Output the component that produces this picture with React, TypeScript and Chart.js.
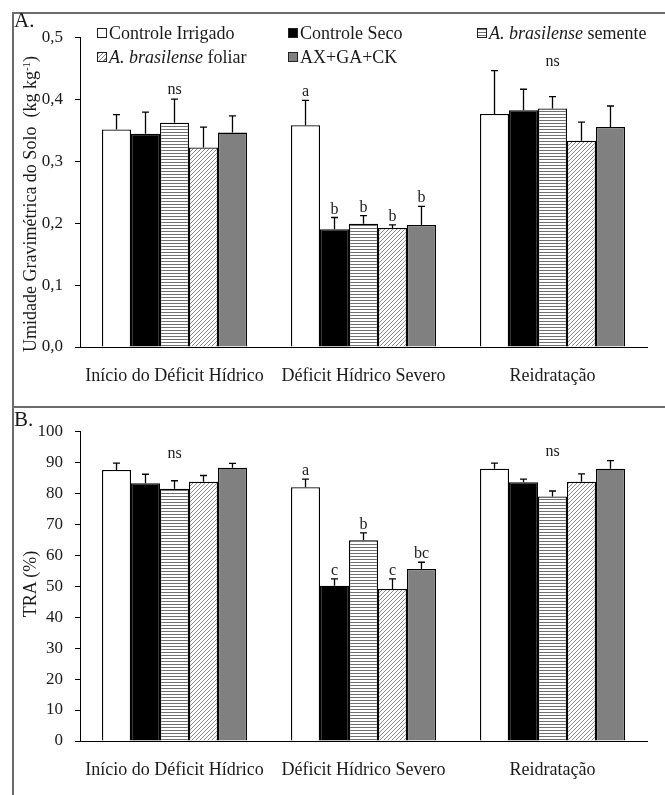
import React, { useEffect, useRef } from "react";
import { Chart, registerables } from "chart.js";

Chart.register(...registerables);

const FONT = "'Liberation Serif', 'Times New Roman', serif";

const categories = ["Início do Déficit Hídrico", "Déficit Hídrico Severo", "Reidratação"];
const seriesNames = ["Controle Irrigado", "Controle Seco", "A. brasilense semente", "A. brasilense foliar", "AX+GA+CK"];

// Panel A – Umidade gravimétrica do solo (kg kg-1)
const umidIrrigado = [0.351, 0.358, 0.376];
const umidSeco = [0.344, 0.19, 0.382];
const umidSemente = [0.362, 0.199, 0.385];
const umidFoliar = [0.322, 0.192, 0.333];
const umidHormonio = [0.346, 0.197, 0.355];
const umidErrIrrigado = [0.024, 0.04, 0.07];
const umidErrSeco = [0.035, 0.019, 0.034];
const umidErrSemente = [0.038, 0.013, 0.019];
const umidErrFoliar = [0.033, 0.005, 0.03];
const umidErrHormonio = [0.027, 0.03, 0.034];
const umidLetters = [
  ["", "a", ""],
  ["", "b", ""],
  ["", "b", ""],
  ["", "b", ""],
  ["", "b", ""],
];
const umidGroupLetters = ["ns", "", "ns"];
const umidTicks = { min: 0, max: 0.5, step: 0.1 };

// Panel B – TRA (%)
const traIrrigado = [87.5, 81.9, 87.9];
const traSeco = [83.2, 50.1, 83.5];
const traSemente = [81.4, 64.8, 78.9];
const traFoliar = [83.7, 49.1, 83.7];
const traHormonio = [88.2, 55.5, 87.9];
const traErrIrrigado = [2.2, 2.6, 1.8];
const traErrSeco = [2.9, 2.2, 1.0];
const traErrSemente = [2.6, 2.4, 1.8];
const traErrFoliar = [2.0, 3.2, 2.5];
const traErrHormonio = [1.4, 2.2, 2.6];
const traLetters = [
  ["", "a", ""],
  ["", "c", ""],
  ["", "b", ""],
  ["", "c", ""],
  ["", "bc", ""],
];
const traGroupLetters = ["ns", "", "ns"];
const traTicks = { min: 0, max: 100, step: 10 };

function hPattern(ctx: CanvasRenderingContext2D) {
  const c = document.createElement("canvas");
  c.width = 4;
  c.height = 3;
  const g = c.getContext("2d")!;
  g.fillStyle = "#ffffff";
  g.fillRect(0, 0, 4, 3);
  g.fillStyle = "#707070";
  g.fillRect(0, 0, 4, 1);
  return ctx.createPattern(c, "repeat")!;
}

function dPattern(ctx: CanvasRenderingContext2D) {
  const c = document.createElement("canvas");
  c.width = 4;
  c.height = 4;
  const g = c.getContext("2d")!;
  g.fillStyle = "#ffffff";
  g.fillRect(0, 0, 4, 4);
  g.fillStyle = "#8a8a8a";
  for (let i = 0; i < 4; i++) g.fillRect(3 - i, i, 1, 1);
  return ctx.createPattern(c, "repeat")!;
}

function makeErrorPlugin(errors: number[][], letters: string[][], groupLetters: string[]) {
  return {
    id: "errorBars",
    afterDatasetsDraw(chart: any) {
      const { ctx } = chart;
      const y = chart.scales.y;
      const minTop: number[] = [];
      ctx.save();
      ctx.strokeStyle = "#000";
      ctx.lineWidth = 1.3;
      ctx.fillStyle = "#1a1a1a";
      ctx.font = `16px ${FONT}`;
      ctx.textAlign = "center";
      ctx.textBaseline = "alphabetic";
      chart.data.datasets.forEach((ds: any, i: number) => {
        const meta = chart.getDatasetMeta(i);
        meta.data.forEach((bar: any, j: number) => {
          const v = ds.data[j];
          const top = y.getPixelForValue(v + errors[i][j]);
          const x = bar.x;
          ctx.beginPath();
          ctx.moveTo(x, bar.y);
          ctx.lineTo(x, top);
          ctx.moveTo(x - 3.5, top);
          ctx.lineTo(x + 3.5, top);
          ctx.stroke();
          if (letters[i][j]) ctx.fillText(letters[i][j], x, top - 4);
          minTop[j] = Math.min(minTop[j] ?? Infinity, top);
        });
      });
      const mid = chart.getDatasetMeta(2);
      groupLetters.forEach((t, j) => {
        if (!t) return;
        ctx.fillText(t, mid.data[j].x, minTop[j] - 5);
      });
      ctx.restore();
    },
  };
}

type PanelProps = {
  series: number[][];
  errors: number[][];
  letters: string[][];
  groupLetters: string[];
  ticks: { min: number; max: number; step: number };
  decimals: number;
  top: number;
};

function Panel({ series, errors, letters, groupLetters, ticks, decimals, top }: PanelProps) {
  const ref = useRef<HTMLCanvasElement>(null);
  useEffect(() => {
    const canvas = ref.current!;
    const ctx = canvas.getContext("2d")!;
    const fills: any[] = ["#ffffff", "#000000", hPattern(ctx), dPattern(ctx), "#808080"];
    const chart = new Chart(canvas, {
      type: "bar",
      data: {
        labels: categories,
        datasets: series.map((s, i) => ({
          label: seriesNames[i],
          data: s,
          backgroundColor: fills[i],
          borderColor: "#000",
          borderWidth: 1.3,
          categoryPercentage: 0.767,
          barPercentage: 1,
        })),
      },
      options: {
        responsive: false,
        animation: false,
        devicePixelRatio: 1,
        layout: { padding: { top: 20, right: 18, left: 0, bottom: 0 } },
        plugins: { legend: { display: false }, tooltip: { enabled: false } },
        scales: {
          x: {
            grid: { display: false },
            border: { display: true, color: "#000", width: 1 },
            ticks: { color: "#1a1a1a", font: { family: FONT, size: 18 }, padding: 10, maxRotation: 0, autoSkip: false },
            afterFit: (s: any) => {
              s.height = 54;
            },
          },
          y: {
            min: ticks.min,
            max: ticks.max,
            ticks: {
              stepSize: ticks.step,
              color: "#1a1a1a",
              font: { family: FONT, size: 17 },
              padding: 12,
              callback: (v: any) => Number(v).toFixed(decimals).replace(".", ","),
            },
            grid: { display: true, drawOnChartArea: false, drawTicks: true, tickLength: 5, color: "#000" },
            border: { display: true, color: "#000", width: 1 },
            afterFit: (s: any) => {
              s.width = 65;
            },
          },
        },
      },
      plugins: [makeErrorPlugin(errors, letters, groupLetters)],
    } as any);
    return () => chart.destroy();
  }, []);
  return (
    <canvas
      ref={ref}
      width={650}
      height={386}
      style={{ position: "absolute", left: 15, top, width: 650, height: 386 }}
    />
  );
}

const sq = (bg: string) => ({
  display: "inline-block",
  width: 10,
  height: 10,
  boxSizing: "border-box" as const,
  border: "1px solid #222",
  background: bg,
  marginRight: 2,
});

const legendBgs = [
  "#ffffff",
  "#000000",
  "repeating-linear-gradient(to bottom, #707070 0px, #707070 1px, #ffffff 1px, #ffffff 3px)",
  "repeating-linear-gradient(135deg, #8a8a8a 0px, #8a8a8a 1px, #ffffff 1px, #ffffff 3px)",
  "#808080",
];
const legendPos = [
  [97, 24],
  [288, 24],
  [477, 24],
  [97, 48],
  [288, 48],
];

function legendLabel(name: string) {
  if (name.startsWith("A. brasilense")) {
    return (
      <>
        <i>A. brasilense</i>
        {name.slice("A. brasilense".length)}
      </>
    );
  }
  return name;
}

export default function App() {
  const text: React.CSSProperties = { position: "absolute", fontFamily: FONT, color: "#1a1a1a", whiteSpace: "pre" };
  return (
    <div style={{ position: "absolute", left: 0, top: 0, width: 665, height: 795, background: "#fff", overflow: "hidden" }}>
      <div
        style={{
          position: "absolute",
          left: 12,
          top: 12,
          width: 653,
          height: 783,
          borderLeft: "2px solid #6b6b6b",
          borderTop: "2px solid #6b6b6b",
          boxSizing: "border-box",
        }}
      />
      <div style={{ position: "absolute", left: 12, top: 406, width: 653, height: 2, background: "#6b6b6b" }} />
      <Panel
        series={[umidIrrigado, umidSeco, umidSemente, umidFoliar, umidHormonio]}
        errors={[umidErrIrrigado, umidErrSeco, umidErrSemente, umidErrFoliar, umidErrHormonio]}
        letters={umidLetters}
        groupLetters={umidGroupLetters}
        ticks={umidTicks}
        decimals={1}
        top={15}
      />
      <Panel
        series={[traIrrigado, traSeco, traSemente, traFoliar, traHormonio]}
        errors={[traErrIrrigado, traErrSeco, traErrSemente, traErrFoliar, traErrHormonio]}
        letters={traLetters}
        groupLetters={traGroupLetters}
        ticks={traTicks}
        decimals={0}
        top={409}
      />
      <div style={{ ...text, left: 14, top: 10, fontSize: 21, lineHeight: "21px" }}>A.</div>
      <div style={{ ...text, left: 14, top: 409, fontSize: 21, lineHeight: "21px" }}>B.</div>
      {seriesNames.map((n, i) => (
        <div
          key={n}
          style={{
            ...text,
            left: legendPos[i][0],
            top: legendPos[i][1],
            fontSize: 18,
            lineHeight: "18px",
            height: 18,
            display: "flex",
            alignItems: "center",
          }}
        >
          <span style={sq(legendBgs[i])} />
          <span>{legendLabel(n)}</span>
        </div>
      ))}
      <div
        style={{
          ...text,
          left: 30,
          top: 204,
          fontSize: 18,
          lineHeight: "18px",
          transform: "translate(-50%, -50%) rotate(-90deg)",
        }}
      >
        {"Umidade Gravimétrica do Solo  (kg kg"}
        <sup style={{ fontSize: 11, verticalAlign: "6px", lineHeight: 0 }}>-1</sup>
        {")"}
      </div>
      <div
        style={{
          ...text,
          left: 30,
          top: 584,
          fontSize: 18,
          lineHeight: "18px",
          transform: "translate(-50%, -50%) rotate(-90deg)",
        }}
      >
        TRA (%)
      </div>
    </div>
  );
}
